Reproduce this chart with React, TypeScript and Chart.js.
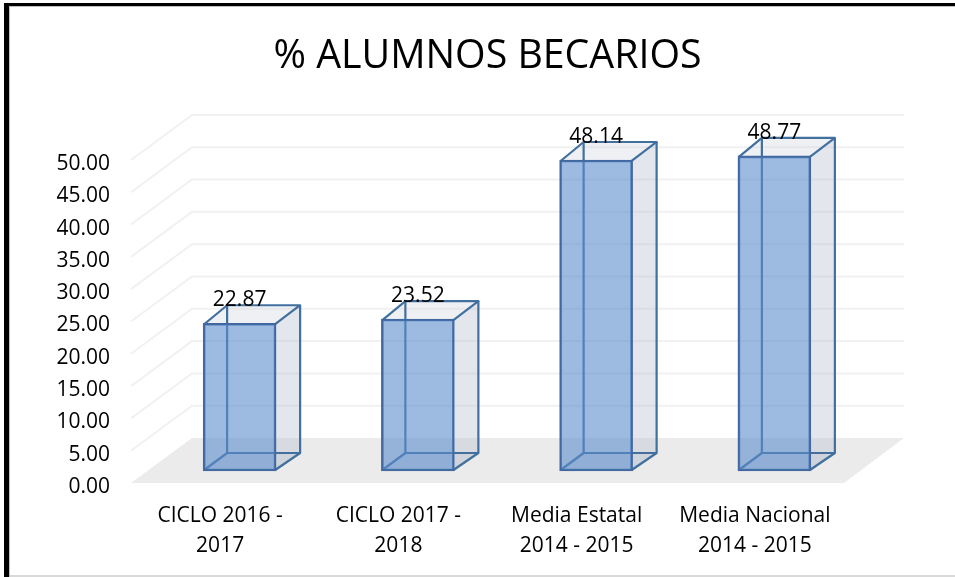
import React, { useEffect, useRef } from "react";
import { Chart, registerables } from "chart.js";

Chart.register(...registerables);

const categories = [
  ["CICLO 2016 -", "2017"],
  ["CICLO 2017 -", "2018"],
  ["Media Estatal", "2014 - 2015"],
  ["Media Nacional", "2014 - 2015"],
];
const becarios = [22.87, 23.52, 48.14, 48.77];
const FONT = "'Open Sans', sans-serif";

const FLOOR_DX = 61;
const FLOOR_DY = 45;
const BAR_SHIFT_X = 19.5;
const BAR_SHIFT_Y = 12;
const BAR_DX = 24;
const BAR_DY = 18;
const LINE = "#41709f";

const fillPoly = (ctx: CanvasRenderingContext2D, pts: number[][], fill: string) => {
  ctx.beginPath();
  pts.forEach(([x, y], i) => (i ? ctx.lineTo(x, y) : ctx.moveTo(x, y)));
  ctx.closePath();
  ctx.fillStyle = fill;
  ctx.fill();
};

const strokePath = (ctx: CanvasRenderingContext2D, pts: number[][]) => {
  ctx.beginPath();
  pts.forEach(([x, y], i) => (i ? ctx.lineTo(x, y) : ctx.moveTo(x, y)));
  ctx.strokeStyle = LINE;
  ctx.lineWidth = 2.2;
  ctx.lineJoin = "round";
  ctx.stroke();
};

const scene3d = {
  id: "scene3d",
  beforeDatasetsDraw(chart: any) {
    const { ctx, chartArea, scales } = chart;
    const { left, right } = chartArea;
    const y0 = scales.y.getPixelForValue(0);
    ctx.save();
    // gridlines: wall + side
    ctx.strokeStyle = "#f1f1f1";
    ctx.lineWidth = 2;
    scales.y.ticks.forEach((t: any) => {
      const y = scales.y.getPixelForValue(t.value);
      if (t.value === 0) return;
      ctx.beginPath();
      ctx.moveTo(left, y);
      ctx.lineTo(left + FLOOR_DX, y - FLOOR_DY);
      ctx.lineTo(right + FLOOR_DX - 1, y - FLOOR_DY);
      ctx.stroke();
    });
    // floor
    fillPoly(
      ctx,
      [
        [left, y0],
        [right, y0],
        [right + FLOOR_DX - 1, y0 - FLOOR_DY],
        [left + FLOOR_DX, y0 - FLOOR_DY],
      ],
      "#ebebeb"
    );
    // rear parts of each box
    chart.getDatasetMeta(0).data.forEach((bar: any) => {
      const l = bar.x - bar.width / 2 + BAR_SHIFT_X;
      const r = bar.x + bar.width / 2 + BAR_SHIFT_X;
      const t = bar.y - BAR_SHIFT_Y;
      const b = bar.base - BAR_SHIFT_Y;
      const bx = r + BAR_DX;
      const lx = l + BAR_DX;
      const ty = t - BAR_DY;
      const by = b - BAR_DY;
      fillPoly(ctx, [[l, b], [r, b], [bx, by], [lx, by]], "rgba(185,192,207,0.25)");
      fillPoly(ctx, [[r, t], [bx, ty], [bx, by], [r, b]], "rgba(185,192,207,0.4)");
      fillPoly(ctx, [[l, t], [r, t], [bx, ty], [lx, ty]], "rgba(195,202,217,0.28)");
      strokePath(ctx, [[l + 1, t + 1], [lx, ty], [bx, ty], [r - 1, t + 1]]);
      strokePath(ctx, [[bx, ty], [bx, by], [r - 1, b - 1]]);
      strokePath(ctx, [[l + 1, b - 1], [lx, by], [bx, by]]);
      strokePath(ctx, [[lx, ty], [lx, by]]);
    });
    ctx.restore();
  },
  beforeDatasetDraw(chart: any) {
    chart.ctx.save();
    chart.ctx.translate(BAR_SHIFT_X, -BAR_SHIFT_Y);
  },
  afterDatasetDraw(chart: any) {
    chart.ctx.restore();
  },
  afterDatasetsDraw(chart: any) {
    const { ctx } = chart;
    ctx.save();
    ctx.fillStyle = "#000";
    ctx.font = `21px ${FONT}`;
    ctx.textAlign = "center";
    ctx.textBaseline = "middle";
    chart.getDatasetMeta(0).data.forEach((bar: any, i: number) => {
      ctx.fillText(becarios[i].toFixed(2), bar.x + BAR_SHIFT_X, bar.y - BAR_SHIFT_Y - 23);
    });
    ctx.restore();
  },
};

export default function App() {
  const ref = useRef<HTMLCanvasElement>(null);
  useEffect(() => {
    const chart = new Chart(ref.current!, {
      type: "bar",
      data: {
        labels: categories,
        datasets: [
          {
            data: becarios,
            backgroundColor: "rgba(91,140,205,0.6)",
            borderColor: "#41699f",
            borderWidth: 2,
            borderSkipped: false,
            barThickness: 73,
            clip: false,
          } as any,
        ],
      },
      options: {
        responsive: false,
        animation: false,
        layout: { padding: { top: 0, right: 111, bottom: 0, left: 0 } },
        plugins: {
          legend: { display: false },
          tooltip: { enabled: false },
          title: {
            display: true,
            text: "% ALUMNOS BECARIOS",
            fullSize: false,
            color: "#000",
            font: { family: FONT, size: 39.3, weight: "normal" },
            padding: { top: 33, bottom: 79.8 },
          },
        },
        scales: {
          x: {
            grid: { display: false },
            border: { display: false },
            afterFit: (s: any) => {
              s.height = 94;
            },
            ticks: {
              color: "#000",
              maxRotation: 0,
              autoSkip: false,
              padding: 10,
              font: { family: FONT, size: 21, lineHeight: 1.43 },
            },
          },
          y: {
            min: 0,
            max: 50,
            afterFit: (s: any) => {
              s.width = 131;
            },
            grid: { display: false },
            border: { display: false },
            ticks: {
              stepSize: 5,
              color: "#000",
              padding: 13,
              labelOffset: 4,
              callback: (v: any) => Number(v).toFixed(2),
              font: { family: FONT, size: 21 },
            },
          },
        },
      },
      plugins: [scene3d],
    });
    return () => chart.destroy();
  }, []);
  return (
    <div style={{ position: "fixed", left: 0, top: 0, width: 955, height: 577, background: "#fff" }}>
      <canvas ref={ref} width={955} height={577} style={{ display: "block" }} />
      <div style={{ position: "absolute", left: 4, top: 6, right: 0, height: 1, background: "#bfbfbf" }} />
      <div style={{ position: "absolute", left: 9, top: 3, bottom: 0, width: 1, background: "#bfbfbf" }} />
      <div style={{ position: "absolute", left: 4, top: 3, right: 0, height: 3, background: "#000" }} />
      <div style={{ position: "absolute", left: 4, top: 3, bottom: 0, width: 5, background: "#000" }} />
      <div style={{ position: "absolute", left: 10, right: 0, top: 575, height: 2, background: "#d9d9d9" }} />
    </div>
  );
}
